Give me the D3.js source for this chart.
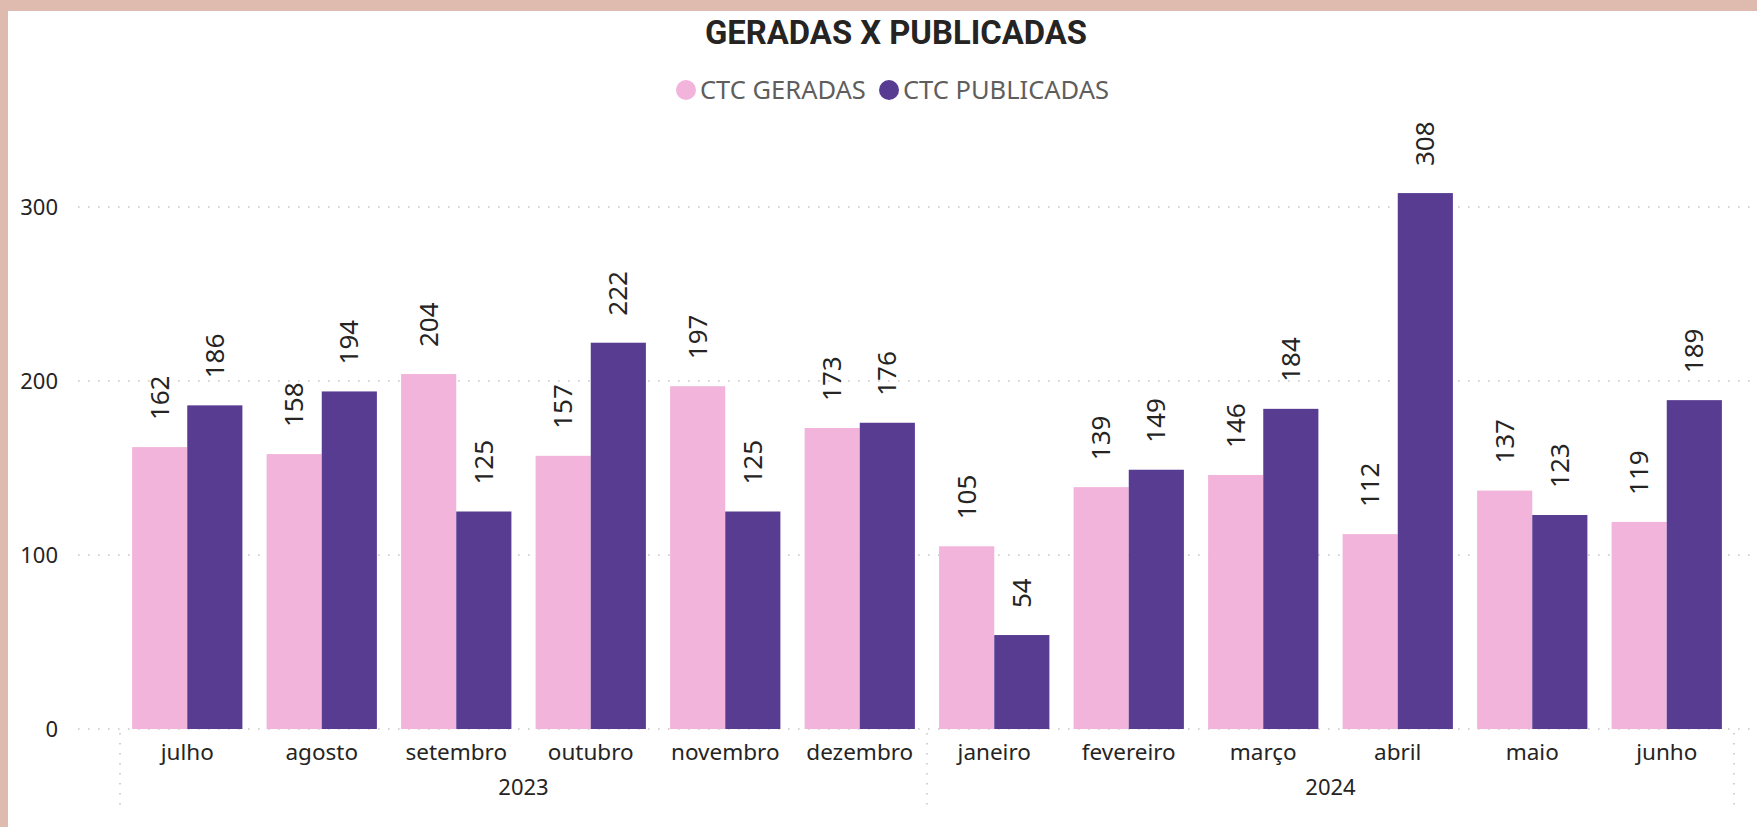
<!DOCTYPE html>
<html>
<head>
<meta charset="utf-8">
<title>Geradas x Publicadas</title>
<script src="https://cdn.jsdelivr.net/npm/d3@7"></script>
<style>
  html, body { margin: 0; padding: 0; background: #fff; }
  body { font-family: "Noto Sans", "Open Sans", sans-serif; }
  svg { display: block; }
</style>
</head>
<body>
<div id="chart"></div>
<script>
// chart data
var months = ["julho", "agosto", "setembro", "outubro", "novembro", "dezembro",
              "janeiro", "fevereiro", "março", "abril", "maio", "junho"];
var years = ["2023", "2023", "2023", "2023", "2023", "2023",
             "2024", "2024", "2024", "2024", "2024", "2024"];
var series = ["CTC GERADAS", "CTC PUBLICADAS"];
var geradas = [162, 158, 204, 157, 197, 173, 105, 139, 146, 112, 137, 119];
var publicadas = [186, 194, 125, 222, 125, 176, 54, 149, 184, 308, 123, 189];
var yTicks = [0, 100, 200, 300];

var W = 1757, H = 827;
var colors = ["#F2B4DB", "#583C92"];

var svg = d3.select("#chart").append("svg")
    .attr("width", W)
    .attr("height", H);

// frame of the visual
svg.append("rect").attr("x", 0).attr("y", 0).attr("width", W).attr("height", 11).attr("fill", "#DEBAAF");
svg.append("rect").attr("x", 0).attr("y", 0).attr("width", 8).attr("height", H).attr("fill", "#DEBAAF");

var rows = months.map(function(m, i) {
    return { key: i, month: m, year: years[i], values: [geradas[i], publicadas[i]] };
});

var x = d3.scaleBand()
    .domain(rows.map(function(d) { return d.key; }))
    .range([120, 1734])
    .paddingInner(0.18)
    .paddingOuter(0.09);

var xs = d3.scaleBand()
    .domain([0, 1])
    .range([0, x.bandwidth()]);

var y = d3.scaleLinear()
    .domain([0, 300])
    .range([729, 207]);

// gridlines
svg.append("g").selectAll("line")
    .data(yTicks).enter()
    .append("line")
    .attr("x1", 78)
    .attr("x2", W)
    .attr("y1", function(d) { return y(d); })
    .attr("y2", function(d) { return y(d); })
    .attr("stroke", "#C8C8C8")
    .attr("stroke-width", 1.6)
    .attr("stroke-dasharray", "1.6,8.4");

// y labels
svg.append("g").selectAll("text")
    .data(yTicks).enter()
    .append("text")
    .attr("x", 58)
    .attr("y", function(d) { return y(d); })
    .attr("dy", "0.35em")
    .attr("text-anchor", "end")
    .style("font-size", "22px")
    .style("fill", "#252423")
    .text(function(d) { return d; });

// bars
var groups = svg.append("g").selectAll("g")
    .data(rows).enter()
    .append("g")
    .attr("transform", function(d) { return "translate(" + x(d.key) + ",0)"; });

groups.selectAll("rect")
    .data(function(d) { return d.values; }).enter()
    .append("rect")
    .attr("x", function(v, j) { return xs(j); })
    .attr("width", xs.bandwidth())
    .attr("y", function(v) { return y(v); })
    .attr("height", function(v) { return y(0) - y(v); })
    .attr("fill", function(v, j) { return colors[j]; });

groups.selectAll("text")
    .data(function(d) { return d.values; }).enter()
    .append("text")
    .attr("transform", function(v, j) {
        return "translate(" + (xs(j) + xs.bandwidth() / 2) + "," + (y(v) - 27) + ") rotate(-90)";
    })
    .attr("dy", "0.35em")
    .style("font-size", "26px")
    .style("fill", "#252423")
    .text(function(v) { return v; });

// month labels
svg.append("g").selectAll("text")
    .data(rows).enter()
    .append("text")
    .attr("x", function(d) { return x(d.key) + x.bandwidth() / 2; })
    .attr("y", 760)
    .attr("text-anchor", "middle")
    .style("font-size", "22.5px")
    .style("fill", "#252423")
    .text(function(d) { return d.month; });

// year groups
var yearList = Array.from(new Set(years));
var step = x.step();
var x0 = x.range()[0];
var bounds = yearList.map(function(yr) {
    var first = years.indexOf(yr), last = years.lastIndexOf(yr);
    return { year: yr, start: x0 + first * step, end: x0 + (last + 1) * step };
});

var seps = [bounds[0].start].concat(bounds.map(function(b) { return b.end; }));
svg.append("g").selectAll("line")
    .data(seps).enter()
    .append("line")
    .attr("x1", function(d) { return d; })
    .attr("x2", function(d) { return d; })
    .attr("y1", 733)
    .attr("y2", 808)
    .attr("stroke", "#C8C8C8")
    .attr("stroke-width", 1.6)
    .attr("stroke-dasharray", "1.6,8.4");

svg.append("g").selectAll("text")
    .data(bounds).enter()
    .append("text")
    .attr("x", function(d) { return (d.start + d.end) / 2; })
    .attr("y", 795)
    .attr("text-anchor", "middle")
    .style("font-size", "22px")
    .style("fill", "#252423")
    .text(function(d) { return d.year; });

// title
svg.append("text")
    .attr("x", 896)
    .attr("y", 44)
    .attr("text-anchor", "middle")
    .attr("textLength", 382)
    .attr("lengthAdjust", "spacingAndGlyphs")
    .style("font-family", "Roboto, sans-serif")
    .style("font-weight", "700")
    .style("font-size", "33px")
    .style("fill", "#252423")
    .text("GERADAS X PUBLICADAS");

// legend
var legendX = [686, 889];
var legend = svg.append("g").selectAll("g")
    .data(series).enter()
    .append("g")
    .attr("transform", function(d, i) { return "translate(" + legendX[i] + ",90)"; });

legend.append("circle")
    .attr("r", 10)
    .attr("fill", function(d, i) { return colors[i]; });

legend.append("text")
    .attr("x", 14)
    .attr("dy", "0.35em")
    .style("font-size", "25.5px")
    .style("fill", "#605E5C")
    .text(function(d) { return d; });
</script>
</body>
</html>
